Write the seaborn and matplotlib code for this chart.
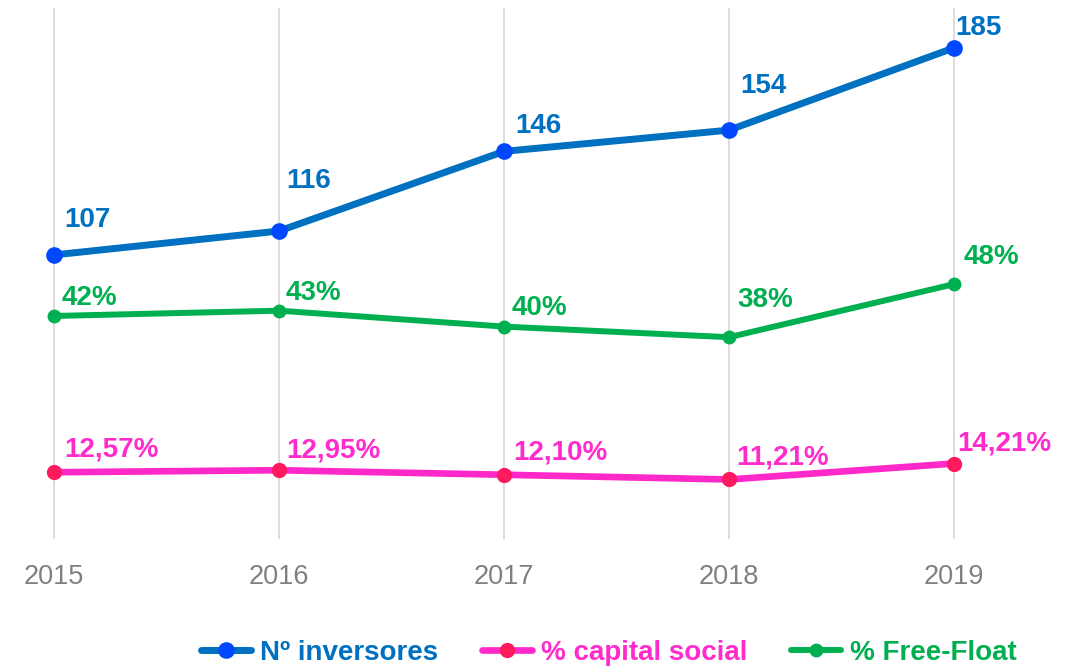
import matplotlib
matplotlib.use("Agg")
import matplotlib.pyplot as plt
import seaborn as sns
from matplotlib.lines import Line2D

# Data
years = [2015, 2016, 2017, 2018, 2019]
inversores = [107, 116, 146, 154, 185]
capital_social = [12.57, 12.95, 12.10, 11.21, 14.21]
free_float = [42, 43, 40, 38, 48]
series_names = ["Nº inversores", "% capital social", "% Free-Float"]

# Styling
BLUE_LINE, BLUE_DOT = "#0070C0", "#0048FF"
PINK_LINE, PINK_DOT, PINK_TEXT = "#FF28C8", "#FF1A5E", "#FF2BCC"
GREEN = "#00B050"
GRID = "#D6D6D6"
TICK = "#808080"

# Label offsets in pixels (dx right, dy up) from each point
blue_off = [(10, 35), (7, 50), (11, 25), (11, 44), (1, 20)]
green_off = [(8, 18), (7, 18), (8, 19), (8, 37), (10, 27)]
pink_off = [(10, 23), (7, 20), (9, 22), (7, 22), (3, 20)]

sns.set_style("white")
plt.rcParams["font.family"] = ["Liberation Sans", "DejaVu Sans"]

fig = plt.figure(figsize=(10.76, 6.68), dpi=100)
ax = fig.add_axes([0, 129 / 668, 1, 531 / 668])
ax2 = ax.twinx()

sns.lineplot(x=years, y=inversores, ax=ax, color=BLUE_LINE, linewidth=5,
             marker="o", markersize=12, markerfacecolor=BLUE_DOT,
             markeredgewidth=0, zorder=3)
sns.lineplot(x=years, y=capital_social, ax=ax2, color=PINK_LINE, linewidth=4.8,
             marker="o", markersize=11, markerfacecolor=PINK_DOT,
             markeredgewidth=0, zorder=3)
sns.lineplot(x=years, y=free_float, ax=ax2, color=GREEN, linewidth=4.3,
             marker="o", markersize=10, markerfacecolor=GREEN,
             markeredgewidth=0, zorder=3)

ax.set_ylim(0, 200)
ax2.set_ylim(0, 100)
ax.set_xlim(years[0] - 0.24, years[0] + 4.542)

# Vertical guides at each year
for y in years:
    ax.axvline(y, color=GRID, linewidth=1.2, zorder=0)

ax.set_xticks(years)
ax.set_xticklabels([str(y) for y in years], color=TICK, fontsize=19.5)
ax.tick_params(axis="x", length=0, pad=18)
ax.set_yticks([])
ax2.set_yticks([])
for a in (ax, ax2):
    for s in a.spines.values():
        s.set_visible(False)
    a.set_xlabel("")
    a.set_ylabel("")

lab_kw = dict(textcoords="offset pixels", ha="left", va="center",
              fontsize=20, fontweight="bold")
for x, v, (dx, dy) in zip(years, inversores, blue_off):
    ax.annotate(f"{v}", (x, v), xytext=(dx, dy), color=BLUE_LINE, **lab_kw)
for x, v, (dx, dy) in zip(years, free_float, green_off):
    ax2.annotate(f"{v}%", (x, v), xytext=(dx, dy), color=GREEN, **lab_kw)
for x, v, (dx, dy) in zip(years, capital_social, pink_off):
    ax2.annotate(f"{v:.2f}".replace(".", ",") + "%", (x, v), xytext=(dx, dy),
                 color=PINK_TEXT, **lab_kw)

handles = [
    Line2D([], [], color=BLUE_LINE, linewidth=5, marker="o", markersize=12,
           markerfacecolor=BLUE_DOT, markeredgewidth=0),
    Line2D([], [], color=PINK_LINE, linewidth=4.8, marker="o", markersize=11,
           markerfacecolor=PINK_DOT, markeredgewidth=0),
    Line2D([], [], color=GREEN, linewidth=4.3, marker="o", markersize=10,
           markerfacecolor=GREEN, markeredgewidth=0),
]
fig.legend(handles, series_names, loc="center",
           bbox_to_anchor=(609 / 1076, 1 - 653 / 668), ncol=3, frameon=False,
           prop={"size": 20, "weight": "bold"},
           labelcolor=[BLUE_LINE, PINK_TEXT, GREEN],
           handlelength=1.8, handletextpad=0.3, columnspacing=1.6)

fig.savefig("out.png", dpi=100)
